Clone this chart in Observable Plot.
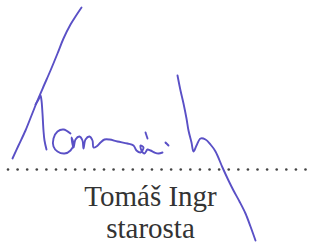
<!DOCTYPE html>
<html>
<head>
<meta charset="utf-8">
<script src="https://cdn.jsdelivr.net/npm/d3@7"></script>
<script src="https://cdn.jsdelivr.net/npm/@observablehq/plot@0.6"></script>
<style>
  html, body { margin: 0; padding: 0; background: #fff; }
  #chart svg { display: block; }
  #chart svg text { font-family: "Liberation Serif", "Times New Roman", serif !important; }
</style>
</head>
<body>
<div id="chart"></div>
<script>
// Signature strokes as [x, y] pairs (pixel space, y downward)
const strokeDiagonal = [[81,7],[75,16],[70,24],[63,38],[57,53],[50,70],[43,86],[37,100],[31,115],[25,130],[18,145],[12,158]];
const strokeStem = [[35,104],[38,99],[40,95],[41,100],[42,113],[43,130],[44,140],[46,149]];
const strokeWord = [[70,133],[63,129],[57,131],[53,138],[53,146],[57,151],[64,153],[70,150],[73,144],[71,137],[73,147],[75,139],[79,136],[82,140],[83,148],[85,139],[89,136],[92,140],[93,147],[96,146],[100,142],[104,139],[109,139],[117,141],[127,143],[133,145],[136,150],[140,152],[143,147],[140,145],[141,150],[144,153],[147,149],[150,150],[154,152],[158,153],[162,152]];
const strokeAccent = [[145,132],[147,138]];
const strokeDot = [[165,142],[168,145]];
const strokeH = [[177,75],[180,90],[183,103],[186,118],[188,130],[191,142],[193,151],[196,145],[200,138],[205,139],[210,144],[215,151],[222,167],[228,180],[233,190],[239,201],[245,213],[250,226],[255,240]];

const strokes = [strokeDiagonal, strokeStem, strokeWord, strokeAccent, strokeDot, strokeH];

// Dotted signature line
const dotCount = 32;
const dotStart = 7.5;
const dotEnd = 305;
const dotY = 169;

// Printed text lines
const nameLines = ["Tomáš Ingr", "starosta"];
const nameY = [205, 237];

const pts = strokes.flatMap((s, i) => s.map(([x, y]) => ({x, y, z: i})));
const dots = d3.range(dotCount).map(i => ({x: dotStart + i * (dotEnd - dotStart) / (dotCount - 1), y: dotY}));
const texts = nameLines.map((t, i) => ({t, y: nameY[i]}));

const chart = Plot.plot({
  width: 309,
  height: 242,
  margin: 0,
  x: {domain: [0, 309], range: [0, 309], axis: null},
  y: {domain: [0, 242], range: [0, 242], axis: null},
  style: {background: "#fff", fontFamily: "'Liberation Serif', 'Times New Roman', serif"},
  marks: [
    Plot.dot(dots, {x: "x", y: "y", r: 1.3, fill: "#444", stroke: "none"}),
    Plot.text(texts, {x: () => 150, y: "y", text: "t", fontFamily: "'Liberation Serif', 'Times New Roman', serif", fontSize: 29, fill: "#333", textAnchor: "middle", lineAnchor: "bottom"}),
    Plot.line(pts, {x: "x", y: "y", z: "z", curve: "catmull-rom", stroke: "#5a50c6", strokeWidth: 1.9, strokeLinecap: "round", strokeLinejoin: "round"})
  ]
});
document.getElementById("chart").append(chart);
</script>
</body>
</html>
